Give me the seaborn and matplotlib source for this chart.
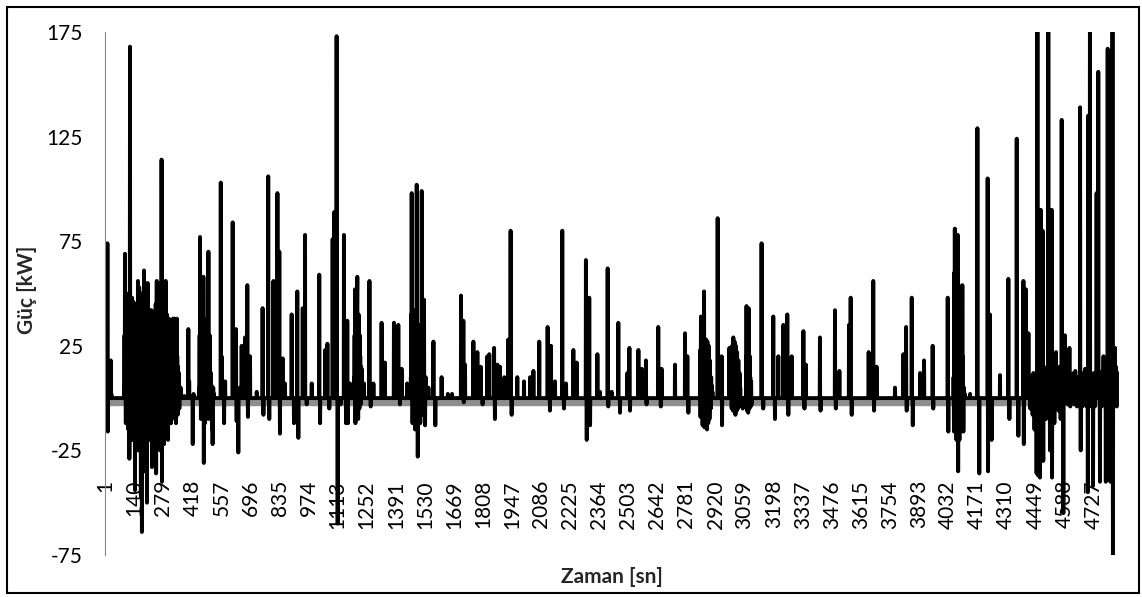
import numpy as np
import pandas as pd
import matplotlib
matplotlib.use("Agg")
import matplotlib.pyplot as plt
import seaborn as sns
from matplotlib.patches import Rectangle

# ---------------- data ----------------
N_SAMPLES = 4850          # number of 1-second samples on the category axis
x_tick_labels = [1, 140, 279, 418, 557, 696, 835, 974, 1113, 1252, 1391, 1530,
                 1669, 1808, 1947, 2086, 2225, 2364, 2503, 2642, 2781, 2920,
                 3059, 3198, 3337, 3476, 3615, 3754, 3893, 4032, 4171, 4310,
                 4449, 4588, 4727]
y_ticks = [-75, -25, 25, 75, 125, 175]
gray_level = -2.3         # grey reference series (flat band just below 0)

# dense burst at the start of the record (time [s], power [kW])
burst_time = [92, 94, 96, 98, 100, 102, 104, 106, 108, 110, 112, 114, 116, 117,
              119, 120, 122, 124, 126, 128, 130, 132, 134, 136, 138, 140, 142,
              144, 146, 148, 150, 152, 154, 156, 158, 160, 162, 164, 166, 168,
              170, 172, 174, 176, 177, 179, 181, 183, 185, 187, 189, 191, 193,
              195, 197, 199, 201, 203, 205, 207, 209, 211, 213, 215, 217, 219,
              221, 223, 225, 227, 229, 231, 233, 235, 237, 239, 241, 243, 245,
              247, 248, 250, 252, 254, 256, 258, 260, 262, 264, 266, 268, 270,
              271, 273, 275, 277, 279, 281, 283, 285, 287, 289, 291, 293, 295,
              297, 299, 301, 302, 304, 306, 308, 310, 312, 314, 316, 318, 320,
              322, 324, 326, 328, 330, 332, 334, 336, 338, 340, 342, 344, 346,
              348, 350, 352, 354, 356, 358]
burst_power = [5, 30, 69, 15, -12, 35, 50, -10, 20, 47, -15, 30, 48, -29,
               10, 168, 25, -15, 45, -10, 48, -20, 20, 46, -12, 30, 45,
               -44, 15, 40, -18, 44, -10, 38, 56, -25, 25, 53, -15, 48,
               10, -47, 50, -20, -64, 20, 50, -15, 30, 61, -35, 25, 55,
               -12, 50, -18, -50, 30, 55, -15, 40, -20, 20, 42, -12, 35,
               10, 42, -33, 25, 40, -15, 15, 38, -12, 30, -20, 45, -36,
               20, 56, -15, 40, -10, 55, -18, 35, 50, -25, 20, 55, -15,
               114, -40, 30, 56, -10, 45, -22, 50, 20, -12, 56, 25, -18,
               40, 15, 35, -20, 20, 38, -10, 28, 10, 28, -12, 20, 25,
               -10, 15, 38, -8, 25, 38, -8, 20, 35, -12, 15, 38, 20,
               -8, 15, 5, 12, -5, 5]

# smaller clusters of consecutive readings (time [s], power [kW])
cluster_557 = [(450, 5), (453, 30), (455, 77), (457, 20), (459, -10), (461, 32),
               (463, 20), (465, -8), (467, 35), (469, 25), (471, 58), (473, -31),
               (475, 30), (477, 20), (479, -12), (481, 35), (483, 25), (485, -10),
               (487, 38), (489, 28), (491, -8), (493, 40), (495, 70), (497, 25),
               (499, -10), (501, 30), (503, 15), (505, -8), (507, 12), (510, 6),
               (513, -15), (515, -22), (518, 5), (522, 2)]
cluster_1252 = [(1192, 10), (1194, 30), (1196, 52), (1198, -12), (1200, 40),
                (1202, 25), (1204, -8), (1206, 45), (1207, 58), (1209, 20),
                (1211, -10), (1213, 40), (1215, 33), (1217, -5), (1219, 30),
                (1221, 20), (1223, -3), (1225, 15), (1228, 14), (1231, 5),
                (1239, 7)]
cluster_1530 = [(1463, 10), (1465, 40), (1467, 98), (1469, 20), (1471, -12),
                (1473, 35), (1475, 20), (1477, -12), (1479, 42), (1481, 10),
                (1483, -15), (1485, 30), (1487, 40), (1489, -5), (1491, 102),
                (1493, 20), (1496, -28), (1498, 25), (1500, 35), (1502, -10),
                (1504, 20), (1506, 30), (1508, -12), (1510, 25), (1512, 35),
                (1515, 99), (1517, 20), (1519, -8), (1521, 30), (1523, 40),
                (1526, 47), (1528, -5), (1531, -13), (1534, 10), (1538, 3)]
cluster_2920 = [(2846, 23), (2848, -9), (2850, 39), (2852, 10), (2854, -9),
                (2856, 30), (2858, -13), (2860, 28), (2862, 5), (2865, 51),
                (2867, -14), (2869, 28), (2871, 10), (2873, -14), (2875, 28),
                (2877, 15), (2879, -15), (2881, 27), (2883, 12), (2885, -12),
                (2887, 25), (2889, 15), (2891, -10), (2893, 18), (2895, 10),
                (2897, -5), (2899, 10), (2902, 6), (2905, 3)]
cluster_3059 = [(2995, 10), (2997, -5), (2999, 25), (3001, 12), (3003, -6),
                (3005, 29), (3007, 15), (3009, -6), (3011, 27), (3013, 20),
                (3015, -8), (3017, 25), (3019, 12), (3021, -6), (3023, 22),
                (3025, 10), (3027, -5), (3029, 18), (3031, 8), (3033, -4),
                (3035, 12), (3038, 5), (3066, 20), (3068, 44), (3070, -6),
                (3072, 30), (3074, 10), (3076, -7), (3078, 43), (3080, 25),
                (3082, -5), (3084, 20), (3086, 10), (3088, -4), (3090, 8)]
cluster_4032 = [(4058, 10), (4060, -16), (4062, 60), (4064, 81), (4066, -14),
                (4068, 50), (4070, 30), (4072, -20), (4074, 55), (4076, 40),
                (4078, 78), (4080, -35), (4082, 54), (4084, 40), (4086, -20),
                (4088, 50), (4090, 30), (4092, -15), (4094, 40), (4096, 25),
                (4098, -10), (4100, 54), (4102, 20), (4105, -16), (4108, 5),
                (4112, 2)]
# low-level activity under the large spikes at the end of the record
tail_base = [(4420, 8), (4425, -5), (4430, 10), (4436, -8), (4440, 12),
             (4445, -15), (4450, 10), (4466, 15), (4490, 10), (4500, -10),
             (4505, 15), (4535, 20), (4540, -12), (4555, 10), (4560, -6),
             (4565, 15), (4570, -10), (4595, 12), (4600, 10), (4604, -3),
             (4608, 12), (4616, -4), (4620, 10), (4624, 5), (4632, 12),
             (4636, -3), (4640, 13), (4644, 5), (4648, -4), (4652, 10),
             (4656, 7), (4670, 12), (4674, -4), (4678, 10), (4682, 7),
             (4690, 13), (4694, -4), (4696, 10), (4715, 12), (4718, -4),
             (4722, 10), (4730, 12), (4734, -4), (4738, 10), (4746, 8),
             (4762, 12), (4766, -4), (4770, 13), (4780, 10), (4784, 5),
             (4790, 12), (4799, 10), (4802, -4), (4812, 12), (4815, 5),
             (4826, 10), (4834, 15), (4838, -4), (4842, 12), (4849, 10)]

# isolated spikes and dips (time [s], power [kW])
events_early = [(12, 74), (14, -16), (20, 3), (28, 18), (31, 2),
                (362, 5), (380, 1), (399, 33), (403, 8), (420, -22), (424, 2),
                (554, 103), (558, 20), (570, -12), (575, 8), (611, 84), (615, 30),
                (627, 33), (630, -11), (638, -26), (645, 5), (654, 25), (670, 29),
                (681, 54), (684, -9), (694, 20), (726, 3), (754, 43), (758, -8),
                (781, 106), (786, -10), (806, 56), (812, 5),
                (825, 98), (834, 70), (837, -17), (850, 19), (861, 7), (893, 40),
                (904, -12), (920, 51), (925, -19), (946, 43), (957, 78), (965, -3),
                (989, 7), (1025, 59), (1029, -12), (1053, 23), (1064, 26),
                (1073, -5), (1089, 76), (1097, 89), (1108, 173), (1113, -60),
                (1127, -3), (1143, 78), (1153, -12), (1159, 37), (1162, -12),
                (1172, 7), (1265, 56), (1271, -4), (1284, 7), (1323, 36),
                (1339, 17), (1382, 36), (1403, 35), (1411, -3), (1419, 14),
                (1445, 7)]
events_middle = [(1547, 5), (1571, 27), (1580, -13), (1610, 10), (1640, 2),
                 (1660, 2), (1703, 49), (1714, 37), (1716, -2), (1722, 16),
                 (1762, 27), (1781, 22), (1797, 15), (1806, -3), (1829, 20),
                 (1838, 21), (1861, 24), (1865, -10), (1877, 16), (1889, 15),
                 (1910, 10), (1929, 28), (1940, 80), (1945, -8), (1972, 10),
                 (2004, 8), (2033, 10), (2049, 13), (2077, 27), (2117, 34),
                 (2128, -6), (2133, 25), (2152, 8), (2187, 80), (2195, -5),
                 (2205, 7), (2240, 23), (2256, 17), (2300, 66), (2304, -20),
                 (2316, 48), (2320, -13), (2355, 21), (2367, 3), (2404, 62),
                 (2407, -4), (2423, 3), (2455, 36), (2463, -7), (2498, 12),
                 (2508, 24), (2511, -6), (2551, 23), (2567, 14), (2587, 18),
                 (2590, -3), (2646, 34), (2658, -4), (2662, 14), (2726, 16),
                 (2774, 31), (2785, 20), (2790, -7), (2930, 86), (2949, 20),
                 (2951, -13), (2986, 24), (3050, -5), (3093, -3), (3140, 74),
                 (3148, -5), (3196, 39), (3204, -10), (3220, 20), (3244, 35),
                 (3263, 40), (3268, -8), (3284, 20), (3340, 32), (3345, -5),
                 (3352, 16), (3419, 29), (3422, -6), (3491, 42), (3495, -5),
                 (3512, 13), (3558, 35), (3566, 48), (3571, -8), (3652, 22),
                 (3674, 56), (3678, -6), (3690, 15), (3778, 5), (3818, 21),
                 (3831, 34), (3834, -6), (3858, 48), (3863, -13), (3898, 12),
                 (3917, 18), (3958, 25), (3961, -5), (4030, 48), (4033, -16)]
events_late = [(4137, 2), (4172, 129), (4181, -36), (4221, 105), (4223, -35),
               (4232, 40), (4240, -20), (4280, 11), (4320, 57), (4325, -10),
               (4360, 124), (4368, -18), (4392, 56), (4394, -22), (4404, 52),
               (4416, 31), (4455, -36), (4459, 190), (4462, -37), (4471, -38),
               (4475, 90), (4478, -30), (4484, 80), (4487, -30), (4495, 14),
               (4511, 190), (4519, -25), (4527, 90), (4529, -38), (4548, 22),
               (4575, 133), (4583, -55), (4591, 30), (4612, 24), (4628, 11),
               (4663, 139), (4666, -25), (4687, 14), (4700, -45), (4702, 135),
               (4710, 190), (4725, -42), (4742, 98), (4750, 156), (4758, -40),
               (4775, 20), (4786, -40), (4795, 167), (4806, 166), (4808, -40),
               (4818, 190), (4820, -75), (4830, 24), (4846, 9)]

# ---------------- style ----------------
sns.set_style("white")
plt.rcParams["font.family"] = ["Lato", "DejaVu Sans"]
plt.rcParams["axes.unicode_minus"] = False

time_s = np.arange(1, N_SAMPLES + 1)
power = np.zeros(N_SAMPLES)
power[np.array(burst_time) - 1] = burst_power
for group in (cluster_557, cluster_1252, cluster_1530, cluster_2920,
              cluster_3059, cluster_4032, tail_base,
              events_early, events_middle, events_late):
    t, p = zip(*group)
    power[np.array(t) - 1] = p
df = pd.DataFrame({"Zaman [sn]": time_s, "Güç [kW]": power})

W, H = 1142, 597
fig = plt.figure(figsize=(W / 100, H / 100), dpi=100)
fig.patch.set_facecolor("white")
ax = fig.add_axes([105 / W, 1 - 555 / H, 1014.3 / W, 523 / H])
ax.set_facecolor("white")

ax.axhline(gray_level, color="#8e8e8e", lw=4.6, zorder=1)
sns.lineplot(data=df, x="Zaman [sn]", y="Güç [kW]", color="black",
             linewidth=2.8, estimator=None, sort=False, ax=ax, zorder=2)

ax.set_xlim(0.5, N_SAMPLES + 0.5)
ax.set_ylim(-75, 175)
ax.set_yticks(y_ticks)
ax.set_xticks(x_tick_labels)
ax.set_xticklabels([str(v) for v in x_tick_labels])

axis_gray = "#868686"
for s in ["top", "right"]:
    ax.spines[s].set_visible(False)
ax.spines["left"].set_color(axis_gray)
ax.spines["left"].set_linewidth(0.8)
ax.spines["bottom"].set_position(("data", -37.5))
ax.spines["bottom"].set_color("none")

ax.tick_params(axis="y", direction="out", length=4.3, width=0.8,
               color=axis_gray, pad=11.5, labelsize=15, labelcolor="black")
ax.tick_params(axis="x", length=0, pad=2.5, labelsize=15, labelcolor="black",
               labelrotation=90)
ax.grid(False)

ax.set_xlabel("Zaman [sn]", fontsize=15, fontweight="bold")
ax.xaxis.label.set_va("center")
ax.xaxis.set_label_coords(0.5, -0.042)
ax.set_ylabel("Güç [kW]", fontsize=15, fontweight="bold")
ax.yaxis.label.set_va("center")
ax.yaxis.set_label_coords(-0.077, 0.507)

fig.add_artist(Rectangle((7 / W, 1 - 593 / H), (1139 - 7) / W, (593 - 7) / H,
                         transform=fig.transFigure, fill=False,
                         edgecolor="black", linewidth=1.5))

fig.savefig("out.png", dpi=100)
